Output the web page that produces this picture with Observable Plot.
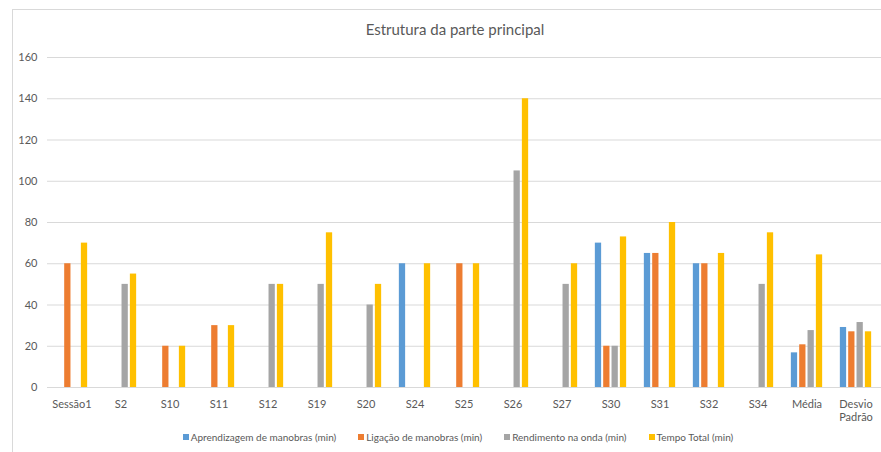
<!DOCTYPE html>
<html><head><meta charset="utf-8">
<script src="https://cdn.jsdelivr.net/npm/d3@7"></script>
<script src="https://cdn.jsdelivr.net/npm/@observablehq/plot@0.6"></script>
<style>
body{margin:0;background:#fff;font-family:Lato,"Liberation Sans",sans-serif;}
#wrap{position:relative;width:881px;height:452px;overflow:hidden;background:#fff;}
#frame{position:absolute;left:12px;top:9px;width:900px;height:480px;border:1px solid #d9d9d9;}
#title{position:absolute;top:20px;left:0;width:910px;text-align:center;font-size:15px;color:#595959;}
#chart{position:absolute;left:0;top:0;}
#legend{position:absolute;top:431px;left:0;width:916px;display:flex;justify-content:center;gap:22px;font-size:10px;color:#595959;}
.item{display:flex;align-items:center;gap:2px;}
.sw{width:6px;height:6px;display:inline-block;}
</style></head>
<body>
<div id="wrap">
  <div id="frame"></div>
  <div id="title">Estrutura da parte principal</div>
  <div id="chart"></div>
  <div id="legend"></div>
</div>
<script>
const categories = ["Sessão1","S2","S10","S11","S12","S19","S20","S24","S25","S26","S27","S30","S31","S32","S34","Média","Desvio Padrão"];
const seriesNames = ["Aprendizagem de manobras (min)","Ligação de manobras (min)","Rendimento na onda (min)","Tempo Total (min)"];
const aprendizagem = [null,null,null,null,null,null,null,60,null,null,null,70,65,60,null,16.8,29.1];
const ligacao      = [60,null,20,30,null,null,null,null,60,null,null,20,65,60,null,20.7,27.0];
const rendimento   = [null,50,null,null,50,50,40,null,null,105,50,20,null,null,50,27.6,31.5];
const tempoTotal   = [70,55,20,30,50,75,50,60,60,140,60,73,80,65,75,64.3,27.0];
const yTicks = [0,20,40,60,80,100,120,140,160];
const colors = ["#5B9BD5","#ED7D31","#A5A5A5","#FFC000"];

const seriesValues = [aprendizagem, ligacao, rendimento, tempoTotal];
const rows = [];
seriesValues.forEach((vals, si) => vals.forEach((v, ci) => {
  if (v != null) rows.push({category: categories[ci], series: seriesNames[si], value: v});
}));

const W = 881, ML = 47, MR = 0, PI = 0.32;
const step = (W - ML - MR) / categories.length;
const bw = step * (1 - PI);
const slot = bw / 4, gap = 1.7;

const chart = Plot.plot({
  width: W, height: 425,
  marginLeft: ML, marginRight: MR, marginTop: 57, marginBottom: 38,
  style: {fontFamily: "Lato, 'Liberation Sans', sans-serif", fontSize: "11px", color: "#595959", background: "transparent", overflow: "visible"},
  x: {domain: categories, paddingInner: PI, paddingOuter: PI / 2, label: null},
  y: {domain: [0, 160], label: null},
  color: {domain: seriesNames, range: colors},
  marks: [
    Plot.ruleY(yTicks, {stroke: "#d9d9d9", strokeWidth: 1}),
    ...seriesNames.map((name, i) => Plot.barY(rows.filter(r => r.series === name), {
      x: "category", y: "value", fill: "series",
      insetLeft: i * slot + gap / 2, insetRight: (3 - i) * slot + gap / 2
    })),
    Plot.axisX({tickSize: 0, tickPadding: 11, label: null, lineHeight: 1.2,
      tickFormat: d => d.replace(" ", "\n")}),
    Plot.axisY({ticks: yTicks, tickSize: 0, tickPadding: 10, label: null})
  ]
});
document.getElementById("chart").appendChild(chart);

const legend = document.getElementById("legend");
seriesNames.forEach((n, i) => {
  const it = document.createElement("div"); it.className = "item";
  const sw = document.createElement("span"); sw.className = "sw"; sw.style.background = colors[i];
  const t = document.createElement("span"); t.textContent = n;
  it.appendChild(sw); it.appendChild(t); legend.appendChild(it);
});
</script>
</body></html>
